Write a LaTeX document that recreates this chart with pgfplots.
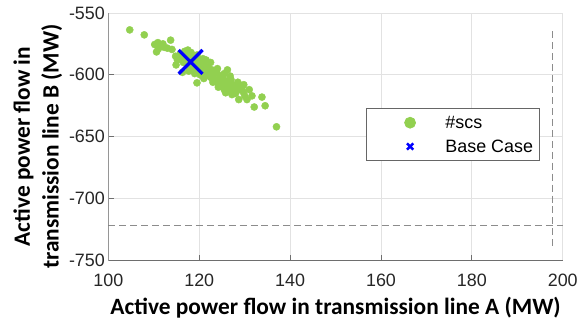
\documentclass[border=0pt]{standalone}
\usepackage{fontspec}
\setmainfont{Liberation Sans}
\newfontfamily\lblfont{Carlito}
\usepackage{pgfplots}
\pgfplotsset{compat=1.18}
\definecolor{scsgreen}{RGB}{146,208,80}
\definecolor{gridgray}{RGB}{226,226,226}
\definecolor{axgray}{RGB}{110,110,110}
\definecolor{dashgray}{RGB}{140,140,140}
\begin{document}
\begin{tikzpicture}
\begin{axis}[
 scale only axis, width=457pt, height=249pt,
 xmin=100, xmax=200, ymin=-750, ymax=-550,
 xtick={100,120,...,200}, ytick={-750,-700,...,-550},
 grid=major, major grid style={draw=gridgray, line width=0.8pt},
 axis line style={draw=gridgray, line width=0.8pt},
 tick pos=left, tick align=inside, major tick length=6pt,
 tick style={draw=axgray, line width=0.8pt},
 ticklabel style={font=\fontsize{18}{21}\selectfont, text=black!85},
 xticklabel style={yshift=-10pt},
 /pgf/number format/assume math mode=true,
 xlabel={Active power flow in transmission line A (MW)},
 ylabel={Active power flow in\\transmission line B (MW)},
 xlabel style={font=\lblfont\bfseries\fontsize{23.5}{26}\selectfont, yshift=-4pt},
 ylabel style={font=\lblfont\bfseries\fontsize{23.5}{29}\selectfont, align=center, at={(ticklabel cs:0.46)}},
 legend cell align=left,
 legend style={at={(rel axis cs:0.566,0.614)}, anchor=north west,
   draw=black!60, line width=0.8pt, font=\fontsize{18}{21}\selectfont,
   row sep=6pt, inner ysep=5pt, inner xsep=4pt},
 legend image code/.code={\path[draw=none] (-1.42cm,0) -- (1.18cm,0); \draw[#1] plot coordinates {(0cm,0cm)};},
]
\addplot[dashgray, line width=1.1pt, dash pattern=on 7pt off 4pt, forget plot] coordinates {(100,-722) (200,-722)};
\addplot[dashgray, line width=1.1pt, dash pattern=on 7pt off 4pt, forget plot] coordinates {(197.8,-565) (197.8,-739)};
\addplot[only marks, mark=*, mark size=3.6pt, scsgreen, forget plot] table {
x y
104.7 -563.7
107.9 -567.7
110.2 -575.5
110.9 -574.0
111.5 -576.5
112.3 -577.8
113.7 -572.0
110.6 -581.5
111.0 -579.0
112.0 -575.0
113.0 -578.5
114.0 -579.5
114.8 -585
115.2 -588
114.9 -592
115.8 -583
116.2 -586
116.5 -590
116.3 -598
117.0 -584
117.3 -588
117.6 -592
117.7 -597
118.0 -585
118.3 -590
118.6 -594
118.9 -587
119.1 -591
119.4 -596
119.5 -606.5
119.8 -588
120.0 -593
120.3 -597
120.6 -590
120.6 -593
120.9 -599
121.2 -592
121.5 -596
121.8 -600
122.0 -594
122.3 -598
122.5 -602
122.8 -596
122.8 -602.5
123.1 -600
123.4 -604
123.6 -597
123.9 -598.4
124.0 -606
124.3 -607.8
124.5 -601
124.8 -604
125.0 -609
125.3 -603
125.6 -607
125.8 -614.5
126.0 -611
126.3 -605
126.5 -609
126.8 -601
127.0 -613
127.3 -608
127.6 -611
128.0 -615
128.3 -609
128.7 -620
129.0 -612
129.4 -610.5
129.7 -614
130.0 -617
127.2 -616
125.5 -612
124.2 -610
123.0 -606
121.0 -603
120.2 -600
119.0 -599
118.2 -582
117.5 -580
116.8 -581
119.5 -584
120.8 -587
122.5 -590
121.5 -588
124.0 -595
125.5 -599
126.2 -596
127.0 -604
128.5 -606
129.8 -608
131.0 -612
130.5 -620
131.6 -617
133.8 -618
132.1 -626
134.5 -625
137.0 -642
};
\addplot[only marks, mark=x, mark size=17pt, blue, line width=3.3pt, forget plot] coordinates {(118.1,-589.6)};
\addlegendimage{only marks, mark=*, mark size=5.5pt, scsgreen}
\addlegendentry{\#scs}
\addlegendimage{only marks, mark=x, mark size=4.5pt, blue, line width=2.5pt}
\addlegendentry{Base Case}
\draw[axgray, line width=0.9pt] (rel axis cs:0,1) -- (rel axis cs:0,0) -- (rel axis cs:1,0);
\end{axis}
\path (-109pt,-61pt) rectangle (472pt,262pt);
\end{tikzpicture}
\end{document}
